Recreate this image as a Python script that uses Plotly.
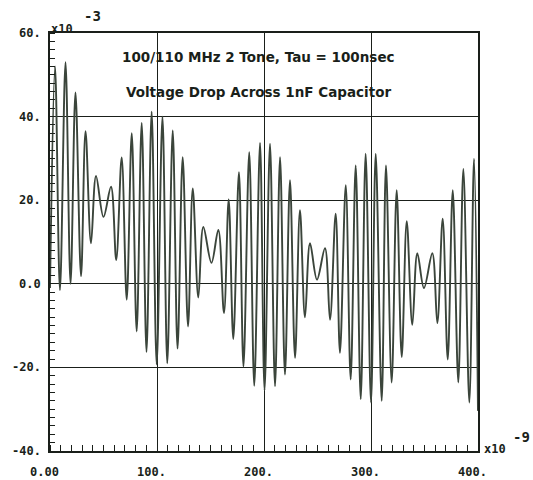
import plotly.graph_objects as go

# Successive turning points of the capacitor voltage (time in ns, voltage in units of 1e-3 V)
time_ns = [
    0.0, 4.7, 9.3, 14.5, 19.2, 23.8, 29.0, 33.2, 38.3, 43.0,
    50.0, 57.0, 61.9, 67.0, 71.7, 76.4, 81.0, 85.7, 90.2, 95.0,
    99.7, 105.1, 109.6, 114.7, 119.2, 124.0, 129.0, 133.4, 138.6, 143.3,
    150.9, 157.3, 162.6, 167.0, 171.3, 176.6, 180.8, 186.2, 190.9, 196.3,
    200.5, 205.6, 210.3, 215.0, 219.6, 224.3, 229.0, 233.6, 238.3, 243.0,
    249.5, 257.0, 261.7, 267.0, 271.0, 276.4, 281.0, 285.7, 290.4, 295.0,
    300.0, 304.4, 310.0, 314.0, 319.3, 324.0, 328.7, 333.4, 338.6, 343.3,
    349.5, 357.3, 362.0, 367.0, 371.7, 376.4, 381.6, 386.3, 391.9, 396.3,
    400.0,
]
voltage_mv = [
    -1.0, 52.0, -1.5, 53.0, 0.0, 45.8, 1.8, 36.5, 9.7, 25.8,
    16.0, 23.2, 5.7, 30.2, -3.8, 36.0, -11.4, 38.5, -16.3, 41.2,
    -19.3, 40.0, -19.0, 36.7, -15.5, 30.3, -10.2, 22.8, -3.3, 13.6,
    5.0, 12.9, -7.0, 20.2, -13.2, 26.7, -19.8, 31.5, -24.4, 33.7,
    -25.5, 33.5, -24.5, 30.3, -21.7, 24.8, -17.7, 17.6, -8.0, 9.7,
    1.0, 8.5, -8.6, 16.8, -16.5, 23.6, -22.9, 28.3, -27.6, 31.1,
    -28.4, 31.1, -28.0, 28.3, -23.6, 22.4, -17.5, 15.0, -9.8, 7.3,
    -1.0, 7.3, -9.4, 15.6, -18.1, 22.4, -23.6, 27.5, -28.4, 29.9,
    -30.4,
]

x_ticks = [0, 100, 200, 300, 400]
x_tick_labels = ["0.00", "100.", "200.", "300.", "400."]
y_ticks = [60, 40, 20, 0, -20, -40]
y_tick_labels = ["60.", "40.", "20.", "0.0", "-20.", "-40."]

title_lines = ["100/110 MHz 2 Tone, Tau = 100nsec", "Voltage Drop Across 1nF Capacitor"]

INK = "#1a1f1a"
TRACE = "#3b453b"
LABEL_FONT = dict(family="DejaVu Sans Mono", size=12, color=INK)
TITLE_FONT = dict(family="DejaVu Sans", size=13.5, color=INK)

fig = go.Figure()
fig.add_trace(go.Scatter(
    x=time_ns, y=voltage_mv, mode="lines",
    line=dict(color=TRACE, width=1.9, shape="spline", smoothing=1.0),
    hoverinfo="skip", showlegend=False,
))

axis_common = dict(
    showline=True, mirror=True, linecolor=INK, linewidth=1.5,
    showgrid=True, gridcolor=INK, gridwidth=1.2,
    zeroline=False, ticks="", showticklabels=False,
)

fig.update_layout(
    width=533, height=480,
    margin=dict(l=50, r=55, t=33, b=29),
    paper_bgcolor="white", plot_bgcolor="white",
    xaxis=dict(range=[0, 400], tickvals=x_ticks,
               minor=dict(ticks="inside", dtick=10, ticklen=6, tickcolor=INK, tickwidth=1.2, showgrid=False),
               **axis_common),
    yaxis=dict(range=[-40, 60], tickvals=y_ticks,
               minor=dict(ticks="inside", dtick=2, ticklen=5, tickcolor=INK, tickwidth=1.2, showgrid=False),
               **axis_common),
)

annotations = []
for v, txt in zip(x_ticks, x_tick_labels):
    annotations.append(dict(x=v, y=0, xref="x", yref="paper", text=f"<b>{txt}</b>",
                            showarrow=False, xanchor="center", yanchor="middle",
                            xshift=-6, yshift=-21, font=LABEL_FONT))
for v, txt in zip(y_ticks, y_tick_labels):
    annotations.append(dict(x=0, y=v, xref="paper", yref="y", text=f"<b>{txt}</b>",
                            showarrow=False, xanchor="right", yanchor="middle",
                            xshift=-7, font=LABEL_FONT))

# exponent markers for both axes
annotations += [
    dict(x=0, y=1, xref="paper", yref="paper", text="<b>x10</b>", showarrow=False,
         xanchor="left", yanchor="middle", xshift=-1, yshift=4, font=LABEL_FONT),
    dict(x=0, y=1, xref="paper", yref="paper", text="<b>-3</b>", showarrow=False,
         xanchor="left", yanchor="middle", xshift=32, yshift=17, font=dict(LABEL_FONT, size=14)),
    dict(x=1, y=0, xref="paper", yref="paper", text="<b>x10</b>", showarrow=False,
         xanchor="left", yanchor="middle", xshift=4, yshift=2, font=LABEL_FONT),
    dict(x=1, y=0, xref="paper", yref="paper", text="<b>-9</b>", showarrow=False,
         xanchor="left", yanchor="middle", xshift=33, yshift=14, font=dict(LABEL_FONT, size=14)),
]

for i, line in enumerate(title_lines):
    annotations.append(dict(x=(258 - 50) / 428, y=1, xref="paper", yref="paper",
                            text=f"<b>{line}</b>", showarrow=False,
                            xanchor="center", yanchor="middle",
                            yshift=-24 - 35 * i, font=TITLE_FONT))

fig.update_layout(annotations=annotations)
fig.write_html("out.html")
